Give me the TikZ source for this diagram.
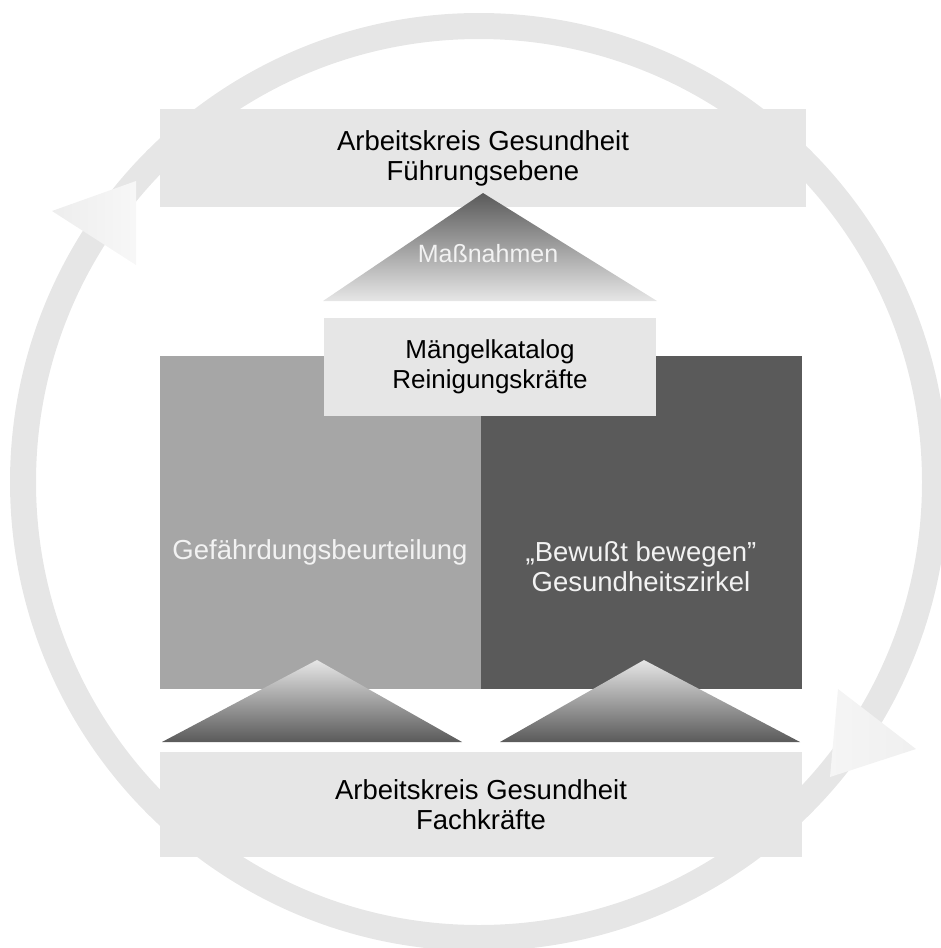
\documentclass[tikz,border=0pt]{standalone}
\usepackage{fontspec}
\setmainfont{Liberation Sans}
\definecolor{ringgray}{HTML}{E6E6E6}
\definecolor{lightgray}{HTML}{E6E6E6}
\definecolor{midgray}{HTML}{A6A6A6}
\definecolor{darkgray}{HTML}{5A5A5A}
\definecolor{paletext}{HTML}{F2F2F2}
\begin{document}
\begin{tikzpicture}[x=1pt,y=-1pt,
  boxtext/.style={font=\fontsize{27.5}{30}\selectfont, align=center, inner sep=0pt},
  lightbox/.style={boxtext, fill=lightgray, draw=none, text=black},
  plainbox/.style={draw=none, inner sep=0pt},
  paletxt/.style={boxtext, text=paletext}]
\useasboundingbox (0,0) rectangle (940,948);
% ring
\draw[ringgray, line width=26pt] (479,482) circle[radius=456pt];
% arrowheads on the ring
\shade[left color=black!7, right color=black!3] (52,211) -- (136,181) -- (136,265) -- cycle;
\shade[left color=black!4, right color=black!6] (838,689) -- (916,749) -- (830,777) -- cycle;
% top box
\node[lightbox, minimum width=646pt, minimum height=98pt] (fuehrung) at (483,158) {Arbeitskreis Gesundheit\\Führungsebene};
% upper triangle
\coordinate (tA) at (483,193);
\coordinate (tL) at (323,301);
\coordinate (tR) at (657,301);
\shade[top color=darkgray, bottom color=lightgray] (tA) -- (tL) -- (tR) -- cycle;
\node[paletxt, font=\fontsize{25}{30}\selectfont] (massn) at (488,254) {Maßnahmen};
% big boxes
\node[plainbox, fill=midgray, minimum width=321pt, minimum height=333pt] (gefbox) at (320.5,522.5) {};
\node[plainbox, fill=darkgray, minimum width=321pt, minimum height=333pt] (bewbox) at (641.5,522.5) {};
\node[paletxt] (geftext) at (320,552) {Gefährdungsbeurteilung};
\node[paletxt] (bewtext) at (641,567) {„Bewußt bewegen”\\Gesundheitszirkel};
% Mängelkatalog box
\node[lightbox, font=\fontsize{26}{30}\selectfont, minimum width=332pt, minimum height=98pt] (maengel) at (490,367) {Mängelkatalog\\Reinigungskräfte};
% lower triangles
\coordinate (lA) at (317,660);
\coordinate (lL) at (162,742);
\coordinate (lR) at (462,742);
\coordinate (rA) at (644,660);
\coordinate (rL) at (500,742);
\coordinate (rR) at (800,742);
\shade[top color=lightgray, bottom color=darkgray] (lA) -- (lL) -- (lR) -- cycle;
\shade[top color=lightgray, bottom color=darkgray] (rA) -- (rL) -- (rR) -- cycle;
% bottom box
\node[lightbox, minimum width=642pt, minimum height=105pt] (fach) at (481,804.5) {Arbeitskreis Gesundheit\\Fachkräfte};
\end{tikzpicture}
\end{document}
